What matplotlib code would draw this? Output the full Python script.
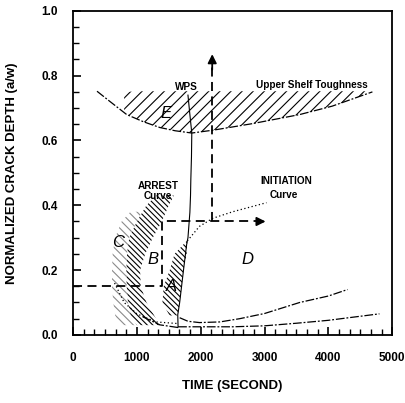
import matplotlib
matplotlib.use("Agg")
import matplotlib.pyplot as plt
from matplotlib.ticker import MultipleLocator

plt.rcParams['font.family'] = ['Liberation Sans', 'DejaVu Sans']
plt.rcParams['hatch.linewidth'] = 0.8

# ---- data ----
xticks = [0, 1000, 2000, 3000, 4000, 5000]
yticks = [0.0, 0.2, 0.4, 0.6, 0.8, 1.0]

# upper shelf toughness curve
usx = [375, 580, 840, 1100, 1360, 1600, 1860, 2200, 2810, 3550, 4060, 4690]
usy = [0.752, 0.72, 0.68, 0.658, 0.64, 0.63, 0.623, 0.632, 0.652, 0.68, 0.706, 0.75]
# hatched region E (above the upper shelf curve)
ex = [800, 1100, 1360, 1600, 1860, 2200, 2810, 3550, 4060, 4600]
ey_low = [0.684, 0.658, 0.64, 0.63, 0.623, 0.632, 0.652, 0.68, 0.706, 0.743]
ey_high = [0.75, 0.752, 0.752, 0.752, 0.752, 0.752, 0.752, 0.752, 0.752, 0.752]

# arrest curve / WPS line (solid)
arx = [1800, 1830, 1860, 1855, 1845, 1840, 1830, 1800, 1780, 1730, 1700, 1670, 1640, 1645]
ary = [0.74, 0.68, 0.623, 0.55, 0.48, 0.43, 0.378, 0.30, 0.28, 0.20, 0.15, 0.10, 0.062, 0.025]
# bottom arrest branch
abx = [1645, 2500, 3000, 3500, 4000, 4800]
aby = [0.025, 0.025, 0.028, 0.036, 0.045, 0.065]
# left lower dash-dot branch
alx = [1090, 1360, 1670]
aly = [0.056, 0.031, 0.022]

# initiation curve: dotted upper part
iux = [1790, 1980, 2190, 2500, 3030]
iuy = [0.29, 0.335, 0.36, 0.38, 0.408]
# initiation curve: lower dash-dot branch
ilx = [1670, 1800, 1980, 2300, 2610, 3000, 3550, 4000, 4300]
ily = [0.053, 0.042, 0.038, 0.04, 0.05, 0.066, 0.10, 0.12, 0.14]
# dotted curve on the left
idx = [650, 800, 1000, 1300, 1640]
idy = [0.16, 0.10, 0.065, 0.04, 0.035]

# band B (dense hatch) and C (sparse hatch)
by = [0.43, 0.40, 0.35, 0.30, 0.25, 0.20, 0.15, 0.10, 0.06, 0.03]
bx_left = [1300, 1150, 1000, 880, 845, 835, 840, 860, 900, 1000]
bx_right = [1580, 1500, 1390, 1250, 1130, 1050, 1060, 1150, 1270, 1360]
cy = [0.38, 0.35, 0.30, 0.25, 0.20, 0.15, 0.10, 0.06, 0.03]
cx_left = [900, 760, 660, 620, 610, 610, 630, 660, 720]
cx_right = [1080, 1000, 880, 845, 835, 840, 860, 900, 1000]
# region A
ay = [0.29, 0.25, 0.20, 0.15, 0.10, 0.06]
ax_left = [1780, 1590, 1515, 1420, 1400, 1510]
ax_right = [1790, 1780, 1730, 1700, 1670, 1640]

# dashed path lines
p1x = [0, 1400, 1400, 2900]
p1y = [0.15, 0.15, 0.35, 0.35]
p2x = [2180, 2180]
p2y = [0.35, 0.83]

# ---- figure ----
fig = plt.figure(figsize=(4.06, 4.03), dpi=100)
ax = fig.add_axes([0.18, 0.169, 0.786, 0.804])
ax.set_xlim(0, 5000)
ax.set_ylim(0, 1.0)

thin = dict(color='black', lw=0.9)
dashdot = (0, (7, 1.5, 1.5, 1.5))
ax.plot(usx, usy, linestyle=dashdot, **thin)
ax.fill_between(ex, ey_low, ey_high, facecolor='none', edgecolor='black', hatch='///', linewidth=0)

ax.plot(arx, ary, linestyle='-', color='black', lw=0.8)
ax.plot(abx, aby, linestyle=dashdot, **thin)
ax.plot(alx, aly, linestyle=dashdot, **thin)
ax.plot(iux, iuy, linestyle=(0, (1, 2)), **thin)
ax.plot(ilx, ily, linestyle=dashdot, **thin)
ax.plot(idx, idy, linestyle=(0, (1, 2)), **thin)

ax.fill_betweenx(by, bx_left, bx_right, facecolor='none', edgecolor='black', hatch='\\' * 6, linewidth=0)
ax.fill_betweenx(cy, cx_left, cx_right, facecolor='none', edgecolor='#8a8a8a', hatch='\\' * 4, linewidth=0)
ax.fill_betweenx(ay, ax_left, ax_right, facecolor='none', edgecolor='black', hatch='\\' * 6, linewidth=0)

dash = dict(color='black', lw=1.3, linestyle=(0, (5, 3)))
ax.plot(p1x, p1y, **dash)
ax.plot(p2x, p2y, **dash)
ax.annotate('', xy=(3060, 0.35), xytext=(2880, 0.35),
            arrowprops=dict(arrowstyle='-|>', color='black', lw=1.3, mutation_scale=13))
ax.annotate('', xy=(2180, 0.875), xytext=(2180, 0.81),
            arrowprops=dict(arrowstyle='-|>', color='black', lw=1.3, mutation_scale=13))

# text labels
small = dict(fontsize=7.2, fontweight='bold')
ax.text(1780, 0.765, 'WPS', ha='center', va='center', **small)
ax.text(2860, 0.77, 'Upper Shelf Toughness', ha='left', va='center', **small)
ax.text(1330, 0.460, 'ARREST', ha='center', va='center', **small)
ax.text(1330, 0.428, 'Curve', ha='center', va='center', **small)
ax.text(2930, 0.474, 'INITIATION', ha='left', va='center', **small)
ax.text(3080, 0.433, 'Curve', ha='left', va='center', **small)
for s, x, y in [('E', 1450, 0.684), ('B', 1250, 0.232), ('C', 700, 0.285),
                ('A', 1540, 0.15), ('D', 2740, 0.232)]:
    ax.text(x, y, s, fontsize=12, style='italic', ha='center', va='center')

# axes styling
ax.set_xticks(xticks)
ax.set_yticks(yticks)
ax.set_xticklabels([str(v) for v in xticks], fontweight='bold', fontsize=8.5)
ax.set_yticklabels(['%.1f' % v for v in yticks], fontweight='bold', fontsize=8.5)
ax.xaxis.set_minor_locator(MultipleLocator(1000 / 6))
ax.yaxis.set_minor_locator(MultipleLocator(0.05))
ax.tick_params(which='major', direction='in', length=6, width=1.2)
ax.tick_params(which='minor', direction='in', length=4, width=1.0)
ax.tick_params(axis='y', pad=11)
ax.tick_params(axis='x', pad=12)
for sp in ax.spines.values():
    sp.set_linewidth(1.3)
ax.set_xlabel('TIME (SECOND)', fontsize=9.5, fontweight='bold', labelpad=12)
ax.set_ylabel('NORMALIZED CRACK DEPTH (a/w)', fontsize=9.5, fontweight='bold', labelpad=17)

fig.savefig('out.png', dpi=100)
